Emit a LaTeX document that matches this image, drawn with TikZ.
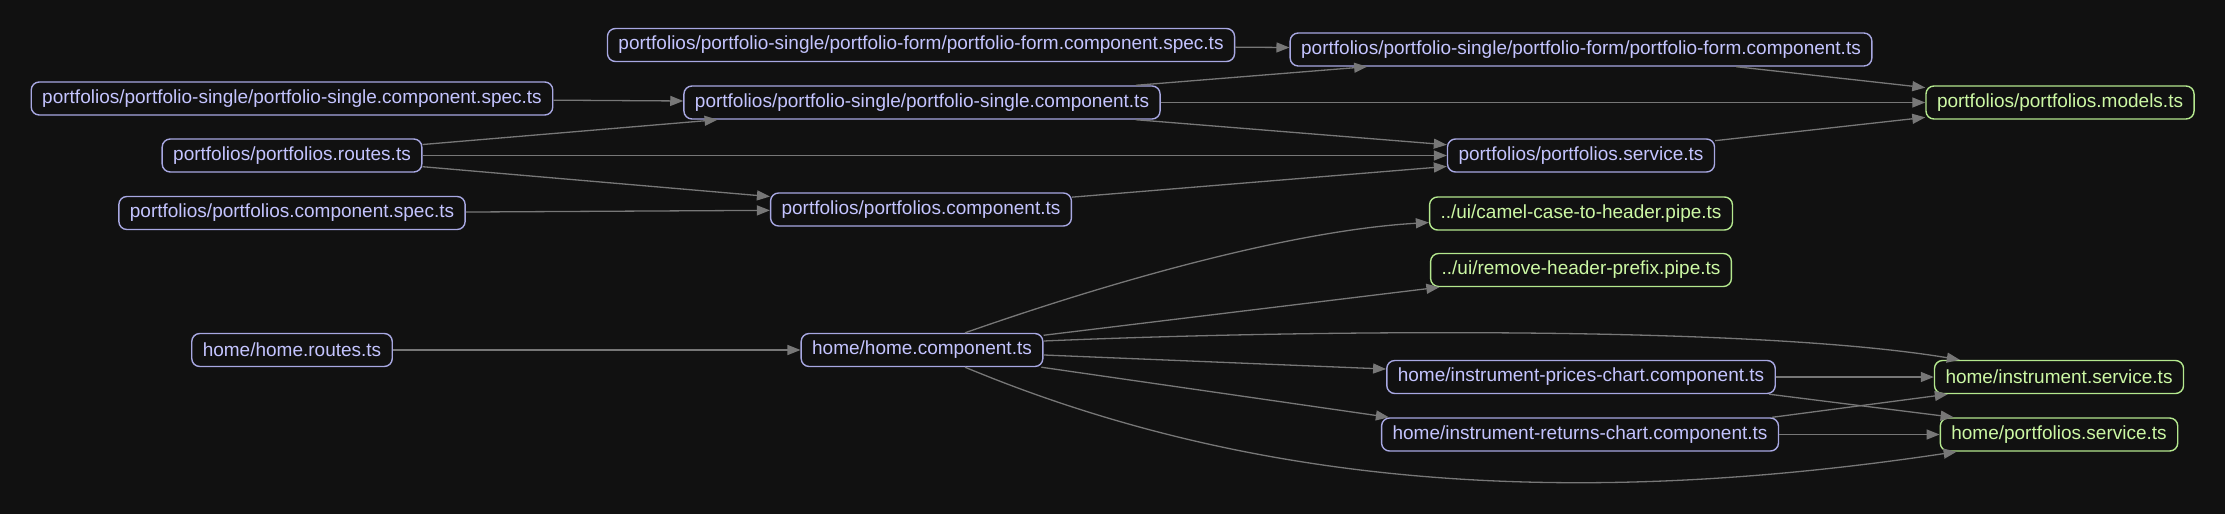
\documentclass[tikz,border=0pt]{standalone}
\usepackage{fontspec}
\setmainfont{Liberation Sans}
\usepackage{tikz}
\usetikzlibrary{arrows.meta}
\definecolor{bgc}{HTML}{111111}
\definecolor{srcc}{HTML}{A8A8E2}
\definecolor{srctext}{HTML}{C4C4FF}
\definecolor{leafc}{HTML}{B4E88E}
\definecolor{leaftext}{HTML}{CCF8A4}
\definecolor{edgec}{HTML}{777777}

\begin{document}
\begin{tikzpicture}[x=50pt, y=50pt,
    file/.style={draw=srcc, text=srctext, fill=bgc, rounded corners=4pt, line width=0.7pt,
        inner xsep=5.5pt, inner ysep=0pt, minimum height=16.5pt, font=\fontsize{9.5}{11}\selectfont},
    leaf/.style={file, draw=leafc, text=leaftext},
    dep/.style={draw=edgec, line width=0.65pt, -{Triangle[length=6.5pt, width=5pt]}}]
    % fundo
    \fill[bgc] (0,0) rectangle (22.25,-5.14);
    \useasboundingbox (0,0) rectangle (22.25,-5.14);
    % portfolios
    \node[file] (fspec) at (9.21,-0.45) {portfolios/portfolio-single/portfolio-form/portfolio-form.component.spec.ts};
    \node[file] (fcomp) at (15.81,-0.495) {portfolios/portfolio-single/portfolio-form/portfolio-form.component.ts};
    \node[file] (sspec) at (2.92,-0.985) {portfolios/portfolio-single/portfolio-single.component.spec.ts};
    \node[file] (scomp) at (9.22,-1.025) {portfolios/portfolio-single/portfolio-single.component.ts};
    \node[leaf] (models) at (20.60,-1.025) {portfolios/portfolios.models.ts};
    \node[file] (proutes) at (2.92,-1.555) {portfolios/portfolios.routes.ts};
    \node[file] (psvc) at (15.81,-1.555) {portfolios/portfolios.service.ts};
    \node[file] (pspec) at (2.92,-2.13) {portfolios/portfolios.component.spec.ts};
    \node[file] (pcomp) at (9.21,-2.095) {portfolios/portfolios.component.ts};
    % ui
    \node[leaf] (camel) at (15.81,-2.135) {../ui/camel-case-to-header.pipe.ts};
    \node[leaf] (remove) at (15.81,-2.70) {../ui/remove-header-prefix.pipe.ts};
    % home
    \node[file] (hroutes) at (2.92,-3.50) {home/home.routes.ts};
    \node[file] (hcomp) at (9.22,-3.50) {home/home.component.ts};
    \node[file] (prices) at (15.81,-3.77) {home/instrument-prices-chart.component.ts};
    \node[file] (returns) at (15.80,-4.345) {home/instrument-returns-chart.component.ts};
    \node[leaf] (isvc) at (20.59,-3.77) {home/instrument.service.ts};
    \node[leaf] (hpsvc) at (20.59,-4.345) {home/portfolios.service.ts};

    % dependencias (portfolios)
    \draw[dep] (fspec) -- (fcomp);
    \draw[dep] (sspec) -- (scomp);
    \draw[dep] (scomp) -- (fcomp);
    \draw[dep] (scomp) -- (models);
    \draw[dep] (scomp) -- (psvc);
    \draw[dep] (fcomp) -- (models);
    \draw[dep] (psvc) -- (models);
    \draw[dep] (proutes) -- (scomp);
    \draw[dep] (proutes) -- (psvc);
    \draw[dep] (proutes) -- (pcomp);
    \draw[dep] (pspec) -- (pcomp);
    \draw[dep] (pcomp) -- (psvc);
    % dependencias (home)
    \draw[dep] (hroutes) -- (hcomp);
    \draw[dep] ([xshift=21.5pt]hcomp.north) .. controls (11.3,-2.75) and (13.0,-2.30) .. ([yshift=-4.5pt]camel.west);
    \draw[dep] (hcomp) -- (remove);
    \draw[dep] ([yshift=4.5pt]hcomp.east) .. controls (13.0,-3.30) and (17.5,-3.25) .. ([xshift=13pt]isvc.north west);
    \draw[dep] (hcomp) -- (prices);
    \draw[dep] (hcomp) -- ([xshift=4pt]returns.north west);
    \draw[dep] ([xshift=21.5pt]hcomp.south) .. controls (12.6,-4.90) and (15.8,-5.08) .. ([xshift=8.5pt]hpsvc.south west);
    \draw[dep] (prices) -- (isvc);
    \draw[dep] ([xshift=-3.5pt]prices.south east) -- ([xshift=7pt]hpsvc.north west);
    \draw[dep] ([xshift=-3.5pt]returns.north east) -- ([xshift=7pt]isvc.south west);
    \draw[dep] (returns) -- (hpsvc);
\end{tikzpicture}
\end{document}
